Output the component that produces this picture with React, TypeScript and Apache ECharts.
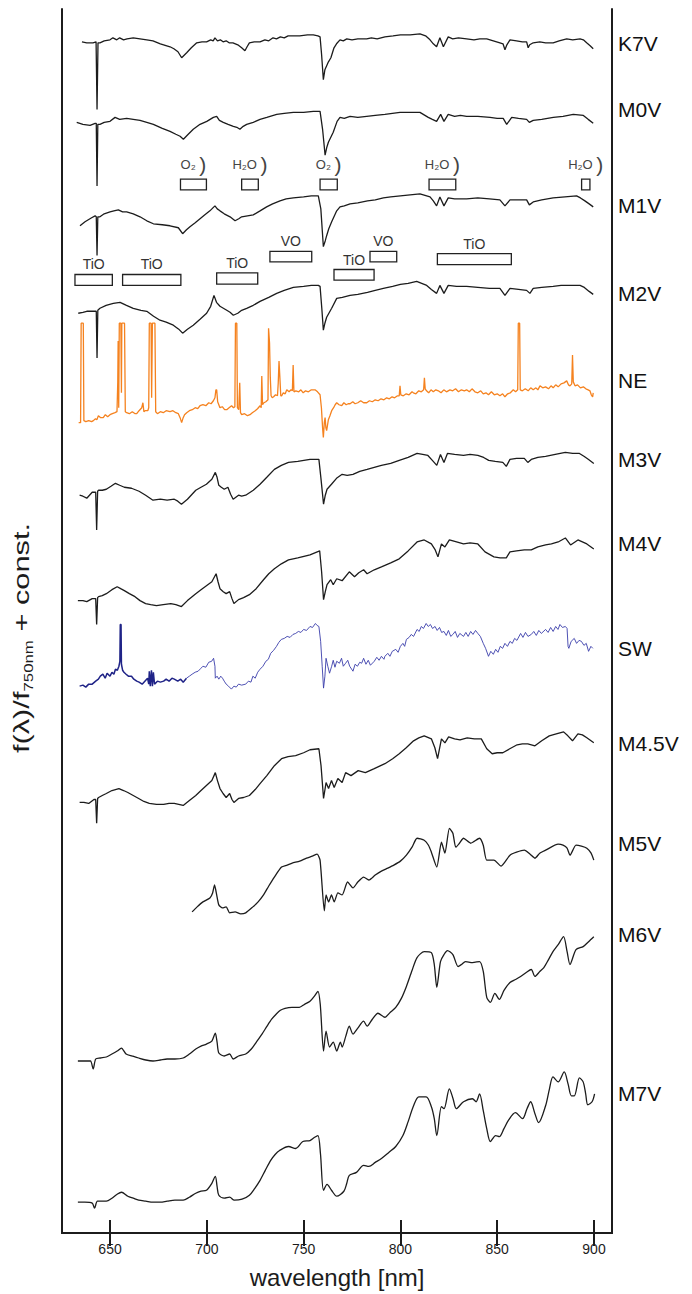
import { useEffect, useRef } from "react";
import * as echarts from "echarts";

type Pt = [number, number];

// Wavelength ticks (nm)
const wavelengthTicks = [650, 700, 750, 800, 850, 900];

// Spectra: [wavelength nm, f(λ)/f750nm + const]
const K7V: Pt[] = [[635.5,11.98],[638,11.97],[641.2,11.97],[642.8,11.98],[643.3,11.3],[643.8,11.97],[644.8,11.97],[647,11.99],[650,12.0],[651.5,12.02],[653.5,12.0],[655,12.02],[657,12.0],[658.8,12.01],[662,12.02],[665.5,12.01],[669,12.0],[672.2,11.99],[676,11.96],[681,11.93],[683,11.91],[685.1,11.88],[687,11.82],[689.6,11.87],[692,11.92],[694.8,11.97],[697.5,11.98],[699.9,11.98],[702,12.0],[703.3,11.99],[704.2,12.02],[705.5,11.99],[707,12.0],[708.4,11.98],[710,11.99],[711.5,11.97],[713.5,11.97],[716,11.95],[718,11.92],[719.7,11.89],[720.8,11.93],[722,11.97],[724.5,11.98],[727.5,11.98],[730,12.0],[732,11.99],[734.2,12.02],[736,12.01],[738,12.03],[740,12.02],[742,12.04],[744.5,12.04],[748,12.04],[752,12.05],[755,12.05],[757.4,12.04],[758.5,12.03],[759.3,11.85],[760.2,11.6],[761,11.7],[762.6,11.77],[764.1,11.82],[765.7,11.92],[767,11.96],[768.8,12.0],[770.5,11.99],[772.3,12.01],[775,12.0],[778,12.01],[782.6,12.01],[785,12.02],[788,12.01],[792,12.03],[796.2,12.04],[800,12.05],[805,12.05],[810.1,12.06],[813,12.04],[815.3,12.0],[817,11.96],[818.7,11.93],[820.4,12.02],[822.2,11.93],[824.7,12.03],[827,12.01],[830,12.02],[834.2,12.01],[838,12.0],[841,12.01],[844.6,12.01],[848,11.99],[851.4,11.97],[853,11.96],[854,11.9],[855,11.95],[856.6,12.0],[860,11.99],[863,11.98],[865.2,11.98],[866,11.92],[866.8,11.95],[868.6,11.97],[872,11.98],[875,11.97],[878.9,11.97],[882,11.99],[885.9,12.01],[889,12.0],[892.8,12.01],[894.5,12.0],[896.2,11.97],[898,11.94],[899.6,11.91]];

const M0V: Pt[] = [[632.8,11.17],[636,11.15],[639.7,11.14],[642.3,11.16],[642.9,11.16],[643.3,10.53],[643.7,11.15],[644.8,11.15],[647,11.17],[650,11.18],[652.6,11.22],[655,11.2],[658.6,11.21],[662,11.2],[665.5,11.19],[669,11.17],[672.4,11.15],[677,11.11],[681,11.08],[684,11.05],[686.2,11.03],[687.9,11.0],[690.4,11.05],[693,11.1],[696.5,11.15],[700,11.18],[703.4,11.22],[705.1,11.23],[706.5,11.19],[708.5,11.17],[711,11.15],[713.7,11.13],[715.5,11.12],[717.1,11.1],[718.8,11.13],[720.6,11.15],[724,11.17],[727.5,11.2],[731,11.22],[736.1,11.25],[740,11.26],[744.7,11.27],[750,11.27],[755,11.28],[758.5,11.28],[759.8,11.1],[761.1,10.84],[762,10.92],[762.8,10.97],[765.3,11.07],[767.3,11.18],[768.8,11.22],[771,11.21],[774,11.23],[778,11.22],[782.6,11.23],[787,11.24],[792,11.25],[799.8,11.27],[805,11.27],[810.1,11.27],[814.4,11.22],[816.5,11.2],[818.7,11.18],[820.8,11.25],[822.5,11.18],[824.7,11.25],[828,11.23],[831,11.24],[834.2,11.23],[840,11.23],[846.3,11.22],[850,11.21],[853.1,11.21],[854.9,11.15],[857.5,11.22],[861,11.21],[865.2,11.2],[866.6,11.17],[868.6,11.19],[873,11.2],[879,11.22],[884,11.23],[889.3,11.25],[894.5,11.24],[897,11.2],[899.6,11.16]];

const M1V: Pt[] = [[634.5,10.13],[637.1,10.17],[640.5,10.21],[642.3,10.23],[642.9,10.22],[643.3,9.83],[643.7,10.22],[644.8,10.22],[647,10.25],[650,10.27],[652,10.28],[654.3,10.29],[656.5,10.27],[658.6,10.27],[662,10.25],[665.5,10.22],[669,10.18],[672.4,10.15],[677,10.14],[681,10.13],[685.3,10.11],[687.5,10.05],[689.5,10.09],[691.3,10.12],[694,10.16],[696.5,10.2],[699,10.24],[701.6,10.28],[704.2,10.33],[705.4,10.3],[706.8,10.28],[709,10.25],[712,10.22],[714.6,10.18],[716.5,10.2],[718,10.22],[721,10.23],[724,10.24],[727.5,10.28],[730.9,10.32],[734,10.35],[737.8,10.38],[741,10.4],[744.7,10.41],[750,10.42],[754,10.43],[757.6,10.43],[758.9,10.3],[760.2,9.92],[761.2,9.98],[761.9,10.03],[763,10.1],[764.5,10.17],[767.1,10.28],[768.8,10.32],[771,10.33],[774,10.35],[778,10.36],[783,10.38],[787,10.39],[791.2,10.41],[795,10.42],[800,10.43],[805,10.44],[810.1,10.45],[815.3,10.42],[817,10.38],[818.7,10.33],[820.4,10.42],[822.5,10.33],[824.7,10.41],[828,10.4],[834.2,10.4],[840,10.41],[846,10.4],[851.4,10.39],[854,10.33],[856.6,10.39],[861,10.39],[865.2,10.39],[866.6,10.34],[868.6,10.37],[873,10.39],[878.9,10.41],[885,10.42],[891,10.43],[893,10.41],[895.3,10.38],[897.5,10.35],[899.6,10.32]];

const M2V: Pt[] = [[633.6,9.25],[636,9.26],[638,9.27],[641.4,9.27],[642.9,9.27],[643.3,8.8],[643.7,9.28],[644.8,9.3],[648,9.33],[651.7,9.35],[655.2,9.36],[658.5,9.33],[662,9.3],[666,9.28],[669,9.27],[672.5,9.22],[675.8,9.18],[679,9.16],[682.7,9.13],[685.5,9.09],[687.5,9.05],[690,9.09],[693,9.13],[696.5,9.19],[699.9,9.25],[702,9.32],[703.7,9.43],[705,9.36],[706.8,9.32],[710.3,9.28],[712,9.26],[713.7,9.23],[716,9.25],[718,9.28],[720.6,9.3],[724,9.33],[727.5,9.37],[732,9.41],[736.1,9.45],[740,9.48],[744.7,9.51],[750,9.52],[754,9.53],[757.6,9.53],[758.5,9.52],[759.4,9.3],[760.2,9.08],[761,9.15],[761.9,9.21],[764.5,9.3],[767.1,9.4],[770,9.41],[774,9.43],[778,9.44],[783,9.46],[787,9.48],[791.2,9.5],[796,9.52],[800,9.54],[804,9.55],[808.4,9.57],[811,9.55],[813.6,9.53],[816,9.49],[818.7,9.45],[820.4,9.53],[822.5,9.45],[824.7,9.53],[829,9.52],[834.2,9.52],[840,9.51],[846,9.5],[851.4,9.5],[854,9.43],[856.6,9.5],[861,9.49],[865.2,9.48],[866.9,9.45],[868.6,9.5],[873,9.51],[878.9,9.52],[883,9.53],[887.6,9.53],[892.8,9.53],[895,9.51],[897.5,9.47],[899.6,9.44]];

const NE: Pt[] = [[633.8,8.15],[634.8,8.15],[635.1,9.15],[636.2,9.15],[636.5,8.17],[637.5,8.16],[639,8.17],[640.5,8.16],[641.4,8.17],[642.5,8.19],[643.2,8.18],[644,8.22],[645.2,8.2],[646.5,8.2],[647.6,8.23],[648.8,8.21],[650,8.23],[651.2,8.24],[652.6,8.25],[653.6,8.26],[654,8.55],[654.2,8.97],[654.5,8.3],[654.8,9.15],[655.6,9.15],[655.9,8.45],[656.1,9.15],[657.5,9.15],[657.9,8.26],[658.6,8.25],[660,8.24],[661.5,8.26],[663,8.24],[663.8,8.24],[665,8.27],[666.4,8.3],[667,8.35],[667.5,8.26],[668.1,8.27],[669.5,8.27],[670,8.3],[670.3,9.15],[671.2,9.15],[671.5,8.4],[671.9,9.15],[673.2,9.15],[673.6,8.26],[674.5,8.24],[676,8.26],[677.5,8.25],[679,8.27],[681,8.26],[682.5,8.27],[684,8.25],[685.3,8.24],[686.2,8.2],[687,8.15],[687.8,8.2],[688.5,8.23],[689.6,8.25],[691,8.27],[692.5,8.28],[694,8.3],[695.3,8.29],[696.5,8.32],[698,8.33],[699.5,8.32],[701,8.35],[702.2,8.34],[703.4,8.37],[704.2,8.4],[704.7,8.48],[705.1,8.48],[705.6,8.36],[706.8,8.3],[708,8.31],[709.2,8.28],[710.3,8.28],[711.5,8.3],[712.8,8.32],[713.8,8.3],[714.5,8.31],[714.8,9.15],[715.5,9.15],[715.8,8.3],[716.5,8.28],[717,8.55],[717.4,8.25],[718,8.23],[719.5,8.24],[721,8.22],[722.3,8.23],[723.5,8.25],[725,8.27],[726.2,8.29],[727.5,8.32],[728.1,8.3],[728.4,8.62],[728.8,8.33],[729.5,8.35],[730.5,8.36],[731.6,8.38],[731.9,9.1],[732.4,8.95],[732.8,8.6],[733.2,8.42],[733.8,8.4],[734.5,8.41],[735.5,8.43],[736.5,8.42],[736.9,8.55],[737.3,8.77],[737.7,8.62],[738.2,8.42],[738.7,8.42],[739.5,8.45],[740.5,8.44],[741.3,8.48],[742.5,8.46],[743.5,8.48],[744.2,8.47],[744.6,8.73],[745,8.46],[746,8.47],[747.5,8.46],[748.6,8.48],[749.8,8.45],[751,8.47],[752.5,8.46],[754,8.48],[755.9,8.48],[757.2,8.46],[758.5,8.43],[759.2,8.3],[759.8,8.1],[760.2,8.0],[760.7,8.15],[761.1,8.2],[761.5,8.1],[761.9,8.07],[762.8,8.18],[763.6,8.22],[764.5,8.27],[765.5,8.3],[766.3,8.33],[767.1,8.35],[768.3,8.33],[769.7,8.32],[770.8,8.35],[772,8.33],[773,8.34],[774,8.34],[775.4,8.36],[776.6,8.34],[778,8.35],[779.5,8.37],[781,8.35],[782.6,8.35],[784,8.37],[785.5,8.36],[787,8.38],[788.5,8.37],[790,8.39],[791.5,8.38],[792.9,8.4],[794.3,8.39],[795.7,8.41],[797,8.4],[798.5,8.42],[799.4,8.42],[799.8,8.52],[800.2,8.43],[801.5,8.42],[803,8.44],[804.5,8.43],[806,8.46],[806.7,8.45],[808,8.44],[809.5,8.47],[810.8,8.46],[812,8.48],[812.4,8.6],[812.8,8.49],[813.5,8.47],[814.6,8.45],[815.8,8.48],[817,8.46],[818.3,8.48],[819.6,8.47],[821,8.45],[822.4,8.48],[823.8,8.46],[825.6,8.48],[827,8.47],[828.5,8.49],[830,8.46],[831.5,8.48],[833,8.47],[834.2,8.48],[835.6,8.46],[837,8.49],[838.5,8.46],[840,8.45],[841.5,8.47],[842.8,8.44],[844.2,8.45],[845.5,8.43],[847,8.46],[848.5,8.43],[850,8.44],[851.4,8.42],[852.8,8.44],[854,8.41],[855.4,8.44],[856.8,8.45],[858.3,8.48],[859.5,8.46],[860.6,8.48],[860.9,9.15],[861.6,9.15],[861.9,8.48],[863,8.47],[864.5,8.49],[866,8.47],[867.3,8.5],[868.6,8.48],[870,8.5],[871,8.48],[872.1,8.52],[873.5,8.5],[875,8.51],[876.5,8.49],[877.8,8.52],[878.9,8.5],[880.2,8.53],[881.5,8.51],[883,8.54],[884.5,8.55],[885.9,8.57],[886.8,8.53],[887.6,8.52],[888.5,8.54],[888.9,8.83],[889.3,8.56],[890.2,8.52],[891.5,8.53],[893,8.5],[894.5,8.51],[895.8,8.49],[897,8.48],[897.9,8.47],[898.6,8.43],[899.3,8.41],[899.6,8.45]];

const M3V: Pt[] = [[634.3,7.42],[636,7.41],[638,7.39],[640.8,7.45],[642.6,7.45],[643.1,7.07],[643.6,7.46],[644.1,7.47],[646,7.47],[648.1,7.48],[650.5,7.51],[652.8,7.54],[655,7.52],[657.4,7.5],[661.1,7.49],[665,7.46],[668.4,7.42],[672.2,7.37],[676,7.38],[679.5,7.37],[683.2,7.38],[685,7.36],[686.9,7.33],[690,7.38],[694.3,7.47],[697,7.5],[699.8,7.53],[702.6,7.58],[704.4,7.65],[705.3,7.6],[706.2,7.52],[707.5,7.5],[709,7.48],[710.9,7.5],[712.3,7.43],[713.6,7.38],[716.4,7.42],[718,7.41],[720.1,7.42],[724,7.47],[727.5,7.53],[731,7.6],[734.9,7.68],[738.5,7.72],[742.2,7.75],[747,7.76],[753.3,7.78],[757.9,7.78],[758.9,7.6],[760.3,7.33],[761.2,7.42],[762.1,7.48],[764.4,7.53],[767,7.59],[769.9,7.63],[772.5,7.62],[775.5,7.63],[779,7.66],[782.8,7.68],[786.5,7.7],[790.2,7.72],[795,7.74],[799.4,7.77],[804,7.8],[808.6,7.84],[811.5,7.83],[814.2,7.82],[816.5,7.77],[818.8,7.72],[820.7,7.83],[822.5,7.75],[824.3,7.84],[828,7.83],[832.6,7.82],[836,7.83],[840,7.82],[843,7.8],[845.6,7.77],[849,7.76],[852.9,7.75],[854.7,7.71],[856.6,7.78],[860,7.79],[864,7.79],[865.8,7.75],[867.6,7.78],[871,7.8],[875,7.81],[880,7.83],[885.2,7.85],[889,7.84],[892.5,7.84],[895,7.81],[897.2,7.78],[899.9,7.74]];

const M4V: Pt[] = [[633.4,6.36],[636,6.36],[638,6.35],[640.8,6.38],[642.6,6.38],[643.1,6.12],[643.6,6.39],[644.1,6.4],[646,6.41],[648.1,6.43],[651,6.47],[653.7,6.5],[655.5,6.48],[657.4,6.46],[660,6.43],[662.9,6.4],[665.5,6.36],[668.4,6.33],[671,6.32],[674,6.31],[677.5,6.32],[681.4,6.33],[684,6.32],[686.9,6.3],[690,6.36],[694.3,6.43],[697,6.47],[699.8,6.51],[702.6,6.55],[704.8,6.63],[705.8,6.55],[706.8,6.48],[708.5,6.45],[710,6.43],[711.8,6.45],[713,6.38],[714,6.33],[716.4,6.37],[719,6.39],[722,6.42],[725.5,6.48],[729.3,6.57],[732,6.63],[734.9,6.68],[738.5,6.73],[742.2,6.77],[747,6.79],[753.3,6.82],[758.3,6.86],[759.3,6.65],[760.3,6.37],[761.2,6.45],[762.1,6.52],[764,6.57],[765.3,6.52],[767.1,6.58],[769.9,6.56],[773.6,6.65],[776.3,6.6],[778.5,6.64],[781,6.67],[782.8,6.63],[786.5,6.67],[790.2,6.7],[795,6.74],[799.4,6.78],[804,6.86],[808.6,6.95],[812.3,6.97],[816,6.93],[818,6.87],[819.4,6.8],[821.2,6.93],[823,6.9],[825.3,6.97],[829,6.95],[832.6,6.93],[836,6.94],[840,6.93],[843.7,6.85],[848.3,6.8],[851.5,6.79],[854.7,6.79],[856.6,6.85],[860,6.86],[864,6.87],[867.6,6.87],[871,6.9],[875,6.92],[878,6.93],[881.5,6.95],[885.2,6.99],[887.9,6.92],[891.7,6.97],[894,6.95],[896.3,6.93],[899.9,6.88]];

const SW: Pt[] = [[634.3,5.5],[636,5.51],[637.5,5.49],[639,5.52],[640.8,5.52],[642.6,5.55],[644,5.57],[645,5.6],[646.3,5.62],[647.5,5.58],[648.5,5.63],[650,5.6],[651,5.64],[652,5.62],[652.8,5.67],[653.8,5.66],[654.6,5.7],[655.1,5.75],[655.3,6.12],[655.7,6.12],[655.9,5.72],[656.5,5.66],[657.2,5.64],[658.3,5.62],[659.5,5.6],[661.1,5.6],[662.3,5.57],[663.8,5.55],[665,5.54],[666.6,5.52],[668,5.55],[669.4,5.58],[670,5.52],[670.3,5.65],[670.8,5.5],[671.4,5.66],[671.9,5.5],[672.4,5.64],[673,5.52],[674.5,5.55],[676,5.54],[677.7,5.55],[679,5.57],[680.5,5.55],[682,5.58],[683.2,5.57],[685,5.55],[686.5,5.57],[687.8,5.54],[689.5,5.58],[691,5.6],[692.4,5.62],[694,5.64],[695.5,5.65],[697,5.68],[698,5.7],[699.5,5.69],[701,5.74],[702.5,5.75],[703.5,5.78],[704.2,5.7],[704.4,5.58],[705.3,5.6],[706.2,5.57],[707.2,5.6],[708.1,5.58],[709,5.55],[710,5.52],[711.2,5.5],[712.7,5.47],[714,5.5],[715.2,5.49],[716.4,5.52],[718,5.51],[720.1,5.52],[721.5,5.55],[722.8,5.54],[723.8,5.6],[725,5.58],[726.3,5.64],[727.5,5.67],[729,5.7],[730.5,5.75],[731.8,5.77],[733,5.83],[734.5,5.86],[736,5.9],[737.2,5.94],[738.5,5.97],[740,5.98],[741.5,6.0],[743,5.99],[744.5,6.02],[745.9,6.03],[747.3,6.05],[748.6,6.04],[750,6.07],[751.5,6.06],[753.3,6.1],[754.6,6.09],[756.1,6.13],[757,6.11],[757.9,6.1],[758.8,5.95],[759.6,5.7],[760.3,5.48],[761,5.6],[761.6,5.78],[762.5,5.7],[763.4,5.63],[764.5,5.7],[765.3,5.76],[766.2,5.69],[767.1,5.75],[768.5,5.73],[769.6,5.78],[770.5,5.7],[771.7,5.73],[772.8,5.76],[773.8,5.7],[775.5,5.65],[776.6,5.72],[777.8,5.7],[779,5.74],[780,5.73],[781,5.78],[782.2,5.72],[783.4,5.76],[784.5,5.71],[786.5,5.75],[787.8,5.79],[789,5.76],[790.2,5.8],[791.5,5.77],[792,5.8],[793.5,5.83],[794.6,5.8],[795.8,5.85],[797.6,5.87],[798.8,5.84],[800,5.9],[801.3,5.93],[802.2,5.9],[803.1,5.97],[804.5,5.99],[805.6,6.02],[806.8,6.0],[808.6,6.07],[809.7,6.05],[810.8,6.1],[811.9,6.08],[813.3,6.13],[814.4,6.1],[815.5,6.12],[816.6,6.08],[817.9,6.1],[819,6.06],[820.2,6.09],[821.3,6.04],[822.5,6.05],[823.7,6.01],[824.8,6.06],[826,6.0],[827.1,6.02],[828.3,6.05],[829.5,5.99],[830.7,6.03],[832.6,6.0],[833.8,6.04],[835,6.0],[836.3,6.05],[837.5,6.02],[838.8,6.06],[840,6.03],[841.3,6.0],[842.8,5.93],[844,5.88],[845.5,5.8],[846.7,5.85],[848,5.82],[849.2,5.87],[850.4,5.84],[851.6,5.9],[852.8,5.88],[854,5.93],[855.3,5.9],[856.6,5.95],[857.8,5.93],[859,5.98],[860.2,5.96],[862.1,6.03],[863.3,5.99],[864.6,6.04],[865.9,6.0],[867.6,6.02],[868.9,6.05],[870.2,6.01],[871.5,6.06],[872.8,6.03],[875,6.07],[876.3,6.04],[877.6,6.09],[878.9,6.05],[880.2,6.1],[881.4,6.07],[882.4,6.12],[883.7,6.09],[885.2,6.1],[886.1,6.08],[886.6,5.9],[887,5.88],[888.2,5.95],[889.8,5.98],[891,5.93],[892.3,5.96],[893.5,5.95],[894.8,5.91],[896,5.93],[897.2,5.85],[898.4,5.9],[899.4,5.88]];

const M45V: Pt[] = [[634.3,4.33],[636.5,4.33],[639,4.32],[641.7,4.36],[642.6,4.36],[643.1,4.12],[643.6,4.37],[644.1,4.38],[646,4.4],[648.1,4.42],[651,4.45],[654.6,4.47],[657,4.45],[659.2,4.43],[662,4.4],[664.8,4.37],[667.5,4.34],[670.3,4.32],[674,4.31],[677.7,4.31],[680.5,4.32],[683.2,4.32],[685.5,4.31],[687.8,4.3],[691,4.35],[694.3,4.4],[697,4.45],[699.8,4.5],[702.6,4.55],[704.4,4.63],[705.5,4.55],[706.8,4.47],[708.4,4.42],[710,4.38],[711.8,4.42],[713,4.36],[714,4.33],[716.4,4.37],[719,4.38],[722,4.4],[725,4.46],[727.5,4.52],[731,4.6],[734.9,4.7],[738.6,4.77],[742,4.79],[745.9,4.8],[750,4.83],[753.3,4.86],[757.9,4.87],[759,4.7],[760.3,4.37],[761.6,4.53],[762.9,4.47],[764.4,4.55],[765.8,4.48],[767.7,4.57],[769.9,4.53],[771.7,4.63],[774.5,4.6],[778.2,4.65],[781.9,4.63],[786.5,4.67],[792,4.72],[796,4.77],[799.4,4.82],[803,4.88],[806.8,4.95],[809.5,4.98],[812.3,5.0],[816,4.97],[817.8,4.88],[819.2,4.77],[821.2,4.97],[823,4.93],[824.9,4.99],[828,4.97],[830.8,4.96],[834.5,4.98],[838.2,4.97],[841.8,4.97],[844.6,4.87],[847.4,4.82],[850,4.83],[852.9,4.83],[856.5,4.87],[860.3,4.91],[863,4.92],[865.8,4.92],[869.5,4.9],[873,4.95],[876.9,5.0],[880.5,5.02],[884.3,5.04],[886.5,5.0],[888.9,4.95],[891.7,5.02],[894,5.01],[896.3,4.98],[899.9,4.93]];

const M5V: Pt[] = [[692.4,3.23],[695,3.28],[698,3.33],[701.6,3.37],[703,3.42],[704,3.5],[705.1,3.4],[706.2,3.3],[708.1,3.27],[710,3.28],[711.8,3.22],[714.6,3.23],[717.5,3.21],[720.1,3.22],[723.8,3.28],[726.5,3.33],[729.3,3.4],[732,3.49],[734.9,3.58],[738.6,3.68],[741.5,3.7],[744.1,3.72],[748,3.74],[751.5,3.77],[754.5,3.79],[757,3.81],[758.5,3.75],[760.7,3.24],[761.6,3.4],[762.9,3.33],[764.4,3.4],[765.8,3.33],[767.7,3.42],[769.9,3.4],[772.7,3.53],[775.5,3.47],[778,3.53],[781,3.58],[783.7,3.55],[787,3.6],[790.2,3.64],[793.5,3.67],[796.6,3.7],[800,3.74],[803.1,3.8],[806,3.88],[808.6,3.97],[812.3,3.95],[814.5,3.9],[816,3.83],[818.8,3.68],[821.2,3.93],[823,3.82],[825.3,4.07],[827.1,4.02],[828.6,3.88],[830.5,3.92],[832.6,3.97],[836.3,3.92],[840.9,3.97],[842.8,3.9],[844.6,3.75],[848.3,3.75],[852,3.69],[856.6,3.8],[860,3.83],[864,3.85],[867,3.81],[869.5,3.77],[872,3.82],[875,3.85],[881.5,3.91],[884,3.9],[886.1,3.87],[887.6,3.8],[890.7,3.9],[893.5,3.89],[896.3,3.87],[898.5,3.82],[899.9,3.75]];

const M6V: Pt[] = [[633.4,1.73],[637,1.73],[639.9,1.73],[641.3,1.65],[642.6,1.75],[645,1.76],[648.1,1.77],[651,1.8],[653.7,1.83],[655.9,1.86],[658.3,1.8],[661.5,1.78],[664.8,1.76],[668.5,1.74],[672.2,1.73],[676,1.74],[679.5,1.75],[683.5,1.75],[687.8,1.76],[691,1.8],[694.3,1.85],[697,1.88],[699.8,1.9],[702.6,1.93],[704.4,2.01],[705.3,1.92],[706.2,1.81],[709,1.78],[711.8,1.8],[713.6,1.75],[716.4,1.78],[720.1,1.8],[723,1.85],[725.6,1.92],[728.5,2.0],[731.1,2.08],[733.5,2.15],[735.8,2.2],[738,2.24],[740.4,2.26],[744,2.27],[747.8,2.27],[750.5,2.3],[753.3,2.33],[755.5,2.38],[757.4,2.43],[758.6,2.3],[760.3,1.83],[761.6,2.03],[763.4,1.87],[765.3,1.92],[767.1,1.83],[769,1.92],[769.9,1.87],[771.8,1.98],[773.6,2.08],[775.5,2.0],[778,2.06],[781,2.13],[782.8,2.08],[785.5,2.15],[788.4,2.21],[792,2.17],[794.8,2.22],[797.6,2.27],[800.5,2.36],[803.1,2.48],[806,2.64],[808.6,2.77],[812.3,2.83],[816,2.82],[817.5,2.7],[818.8,2.47],[820.7,2.73],[822.5,2.8],[824.3,2.84],[827.1,2.8],[829.8,2.68],[831.5,2.7],[833.6,2.73],[837.2,2.72],[840.9,2.73],[842.8,2.63],[844.6,2.37],[846.5,2.32],[848.8,2.41],[851.1,2.35],[853.5,2.44],[856.6,2.52],[859.5,2.55],[862.1,2.58],[865,2.62],[867.6,2.65],[869.5,2.58],[872,2.63],[874.1,2.67],[876.5,2.75],[878.8,2.83],[881.5,2.9],[884.3,2.98],[886.1,2.83],[887.6,2.7],[890.7,2.85],[894.4,2.88],[897.2,2.93],[899.9,2.98]];

const M7V: Pt[] = [[633.4,0.31],[637,0.31],[640.8,0.3],[642,0.25],[643.5,0.32],[646,0.32],[648.1,0.32],[651,0.35],[653.7,0.39],[655.9,0.41],[659.2,0.37],[662,0.35],[664.8,0.33],[668.5,0.32],[672.2,0.31],[676,0.31],[679.5,0.32],[683.5,0.33],[687.8,0.33],[691,0.36],[694.3,0.4],[697,0.42],[699.8,0.43],[702.6,0.5],[704.4,0.57],[705.3,0.47],[706.2,0.38],[709,0.35],[711.8,0.36],[714.2,0.33],[718.2,0.34],[722,0.38],[724.8,0.45],[727.5,0.53],[730.2,0.63],[733,0.73],[735.3,0.79],[737.6,0.83],[742.2,0.87],[745.9,0.85],[749.6,0.92],[753.3,0.93],[755.5,0.96],[757.4,0.98],[758.7,0.8],[760.3,0.43],[762.1,0.49],[764.4,0.43],[767.1,0.37],[770.8,0.42],[772.3,0.5],[773.6,0.58],[777.3,0.61],[781,0.68],[783.7,0.67],[787,0.71],[790.2,0.75],[794,0.81],[797.6,0.87],[801.3,0.98],[804,1.12],[806.8,1.28],[809.5,1.37],[813.3,1.37],[816,1.27],[817.5,1.15],[818.8,0.98],[821.2,1.27],[822.5,1.25],[825.3,1.45],[827.2,1.35],[828.9,1.25],[832.6,1.32],[837.2,1.35],[839.1,1.32],[840.9,1.4],[842.8,1.23],[844.6,1.05],[846.5,0.92],[849.2,0.98],[851.1,0.97],[853.5,1.05],[855.7,1.13],[859.4,1.21],[863.1,1.15],[865.4,1.25],[867.3,1.32],[869.5,1.2],[871.4,1.11],[875,1.28],[877,1.45],[878.8,1.57],[881.5,1.52],[884.6,1.62],[886.6,1.5],[888.3,1.38],[889.8,1.38],[892.5,1.56],[894.4,1.52],[895.7,1.4],[896.8,1.29],[899,1.32],[900.3,1.4]];

// Spectral type labels and the level each one sits at on the right edge
const spectralTypes = ["K7V", "M0V", "M1V", "M2V", "NE", "M3V", "M4V", "SW", "M4.5V", "M5V", "M6V", "M7V"];
const typeLabelLevels = [11.96, 11.3, 10.33, 9.45, 8.57, 7.78, 6.93, 5.88, 4.92, 3.92, 3.0, 1.4];

// Absorption bands: name, wavelength range (nm), box top / bottom level
const bandNames = ["O₂", "H₂O", "O₂", "H₂O", "H₂O", "TiO", "TiO", "TiO", "VO", "TiO", "VO", "TiO"];
const bandStart = [686.4, 718.0, 758.5, 814.8, 893.6, 631.9, 656.5, 705.1, 732.6, 765.7, 784.3, 819.1];
const bandEnd = [699.8, 726.6, 767.4, 828.6, 897.9, 651.2, 686.6, 726.3, 754.2, 786.4, 798.1, 857.3];
const bandTop = [10.6, 10.6, 10.6, 10.6, 10.6, 9.64, 9.64, 9.657, 9.873, 9.69, 9.873, 9.85];
const bandBottom = [10.49, 10.49, 10.49, 10.49, 10.49, 9.53, 9.53, 9.543, 9.767, 9.583, 9.767, 9.74];

const FONT = "'Liberation Sans', Arial, Helvetica, sans-serif";
const INK = "#1c1c1c";
const X_MIN = 625.2;
const X_MAX = 909.3;
const Y_MIN = 0;
const Y_MAX = 12.31;

const SW_SPLIT = 690;

export default function App() {
  const ref = useRef<HTMLDivElement>(null);

  useEffect(() => {
    if (!ref.current) return;
    const chart = echarts.init(ref.current, undefined, { renderer: "svg" });

    const blackLine = (name: string, data: Pt[], smooth = 0) => ({
      name,
      type: "line",
      data,
      smooth,
      showSymbol: false,
      symbol: "none",
      silent: true,
      lineStyle: { color: INK, width: 1.3 },
      z: 3,
    });

    const swDark = SW.filter((p) => p[0] <= SW_SPLIT);
    const swLight = SW.filter((p) => p[0] >= SW[swDark.length - 1][0]);

    const frameAxisX = {
      type: "value",
      min: X_MIN,
      max: X_MAX,
      splitLine: { show: false },
      axisLine: { show: true, lineStyle: { color: INK, width: 2 } },
      axisTick: {
        show: true,
        inside: true,
        length: 13,
        customValues: wavelengthTicks,
        lineStyle: { color: INK, width: 2 },
      },
    };

    const option = {
      animation: false,
      backgroundColor: "#ffffff",
      grid: { left: 62, right: 80, top: 9, bottom: 54, containLabel: false },
      xAxis: [
        {
          ...frameAxisX,
          position: "bottom",
          axisLabel: {
            show: true,
            customValues: wavelengthTicks,
            color: INK,
            fontSize: 14,
            fontFamily: FONT,
            margin: 9,
          },
          name: "wavelength [nm]",
          nameLocation: "middle",
          nameGap: 32,
          nameTextStyle: { color: INK, fontSize: 24, fontFamily: FONT },
        },
        {
          ...frameAxisX,
          position: "top",
          axisLabel: { show: false },
        },
      ],
      yAxis: [
        {
          type: "value",
          min: Y_MIN,
          max: Y_MAX,
          position: "left",
          splitLine: { show: false },
          axisLine: { show: true, lineStyle: { color: INK, width: 2 } },
          axisTick: { show: false },
          axisLabel: { show: false },
        },
        {
          type: "value",
          min: Y_MIN,
          max: Y_MAX,
          position: "right",
          splitLine: { show: false },
          axisLine: { show: true, lineStyle: { color: INK, width: 2 } },
          axisTick: { show: false },
          axisLabel: {
            show: true,
            customValues: typeLabelLevels,
            margin: 6,
            color: "#111",
            fontSize: 21,
            fontFamily: FONT,
            formatter: (v: number) => {
              let best = 0;
              typeLabelLevels.forEach((l, i) => {
                if (Math.abs(l - v) < Math.abs(typeLabelLevels[best] - v)) best = i;
              });
              return spectralTypes[best];
            },
          },
        },
      ],
      graphic: [
        {
          type: "text",
          x: 22,
          y: 638,
          rotation: Math.PI / 2,
          scaleX: 1.4,
          silent: true,
          style: {
            text: "f(λ)/f{s|750nm} + const.",
            fill: INK,
            fontSize: 22,
            fontFamily: FONT,
            align: "center",
            verticalAlign: "middle",
            lineHeight: 26,
            rich: {
              s: { fontSize: 12, fontFamily: FONT, fill: INK, verticalAlign: "bottom", lineHeight: 14 },
            },
          },
        },
      ],
      series: [
        blackLine("K7V", K7V),
        blackLine("M0V", M0V),
        blackLine("M1V", M1V),
        blackLine("M2V", M2V),
        {
          name: "NE",
          type: "line",
          data: NE,
          showSymbol: false,
          symbol: "none",
          silent: true,
          lineStyle: { color: "#f5821f", width: 1.3 },
          z: 3,
        },
        blackLine("M3V", M3V),
        blackLine("M4V", M4V),
        {
          name: "SW",
          type: "line",
          data: swDark,
          showSymbol: false,
          symbol: "none",
          silent: true,
          lineStyle: { color: "#1f2387", width: 1.5 },
          z: 3,
        },
        {
          name: "SW (red part)",
          type: "line",
          data: swLight,
          showSymbol: false,
          symbol: "none",
          silent: true,
          lineStyle: { color: "#3a3daa", width: 0.9 },
          z: 3,
        },
        blackLine("M4.5V", M45V),
        blackLine("M5V", M5V, 0.2),
        blackLine("M6V", M6V, 0.25),
        blackLine("M7V", M7V, 0.3),
        {
          name: "bands",
          type: "custom",
          coordinateSystem: "cartesian2d",
          silent: true,
          z: 5,
          data: bandNames.map((_, i) => [bandStart[i], bandEnd[i], bandTop[i], bandBottom[i]]),
          encode: { x: [0, 1], y: [2, 3] },
          renderItem: (params: any, api: any) => {
            const p1 = api.coord([api.value(0), api.value(2)]);
            const p2 = api.coord([api.value(1), api.value(3)]);
            const name = bandNames[params.dataIndex];
            const molecular = name === "TiO" || name === "VO";
            const text = molecular ? name : `{n|${name} }{p|)}`;
            return {
              type: "group",
              children: [
                {
                  type: "rect",
                  shape: { x: p1[0], y: p1[1], width: p2[0] - p1[0], height: p2[1] - p1[1] },
                  style: { fill: "#ffffff", stroke: "#222", lineWidth: 1.3 },
                },
                {
                  type: "text",
                  style: {
                    text,
                    x: (p1[0] + p2[0]) / 2,
                    y: p1[1] - (molecular ? 3 : 4),
                    align: "center",
                    verticalAlign: "bottom",
                    fill: "#333",
                    fontSize: 14,
                    fontFamily: FONT,
                    rich: {
                      n: { fontSize: 13, fontFamily: FONT, fill: "#444" },
                      p: { fontSize: 21, fontFamily: FONT, fill: "#444" },
                    },
                  },
                },
              ],
            };
          },
        },
      ],
    };

    chart.setOption(option as any);
    return () => chart.dispose();
  }, []);

  return (
    <div
      ref={ref}
      style={{ position: "absolute", left: 0, top: 0, width: 692, height: 1294 }}
    />
  );
}
